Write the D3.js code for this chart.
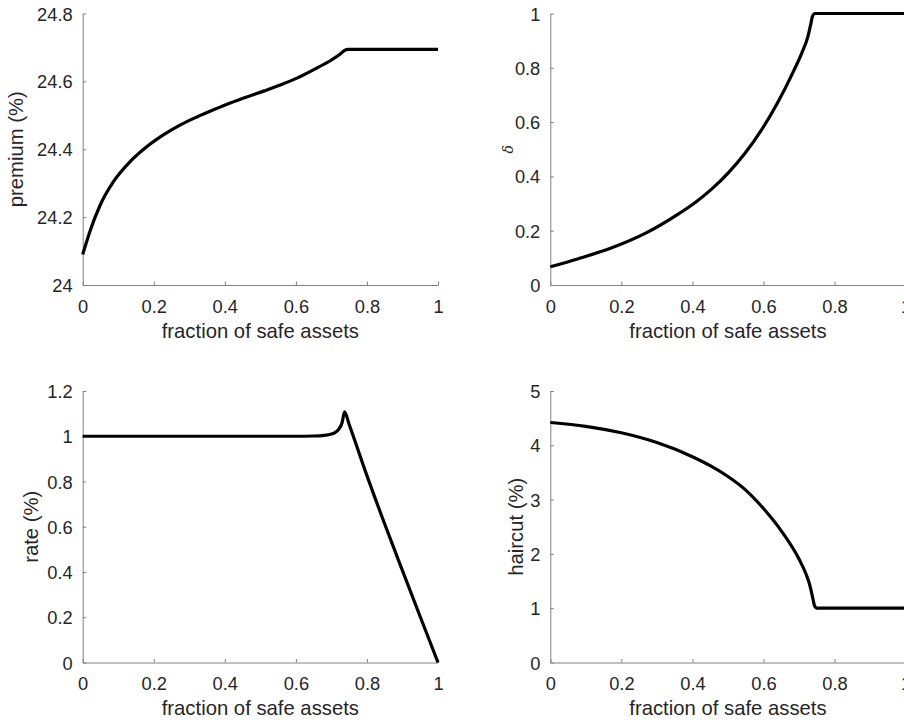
<!DOCTYPE html>
<html>
<head>
<meta charset="utf-8">
<script src="https://cdn.jsdelivr.net/npm/d3@7"></script>
<style>
  body { margin: 0; background: #fff; }
  svg { display: block; }
  text { font-family: "Liberation Sans", Arial, Helvetica, sans-serif; fill: #262626; }
</style>
</head>
<body>
<div id="chart"></div>
<script>
// values
const premiumX = [0, 0.021, 0.049, 0.087, 0.134, 0.181, 0.228, 0.275, 0.323, 0.370, 0.417, 0.464, 0.511, 0.558, 0.606, 0.653, 0.700, 0.724, 0.738, 0.747, 1];
const premiumY = [24.090, 24.160, 24.235, 24.305, 24.364, 24.408, 24.443, 24.472, 24.496, 24.517, 24.537, 24.555, 24.572, 24.590, 24.611, 24.636, 24.663, 24.680, 24.692, 24.694, 24.694];

const deltaX = [0, 0.079, 0.173, 0.267, 0.361, 0.408, 0.454, 0.501, 0.548, 0.595, 0.642, 0.680, 0.708, 0.725, 0.733, 0.738, 0.745, 1];
const deltaY = [0.067, 0.097, 0.137, 0.190, 0.262, 0.304, 0.353, 0.413, 0.485, 0.572, 0.677, 0.775, 0.855, 0.915, 0.960, 0.990, 1.0, 1.0];

const rateX = [0, 0.1, 0.2, 0.3, 0.4, 0.5, 0.6, 0.65, 0.68, 0.70, 0.71, 0.72, 0.73, 0.737, 0.75, 0.8, 0.85, 0.9, 0.95, 1];
const rateY = [1, 1, 1, 1, 1, 1, 1, 1.001, 1.004, 1.01, 1.016, 1.03, 1.06, 1.108, 1.052, 0.826, 0.612, 0.406, 0.202, 0];

const haircutX = [0, 0.1, 0.2, 0.3, 0.4, 0.45, 0.5, 0.55, 0.6, 0.65, 0.7, 0.72, 0.73, 0.738, 0.744, 0.75, 1];
const haircutY = [4.42, 4.35, 4.23, 4.05, 3.79, 3.625, 3.425, 3.175, 2.835, 2.425, 1.905, 1.625, 1.435, 1.21, 1.04, 1.0, 1.0];

const xTicks = [0, 0.2, 0.4, 0.6, 0.8, 1];
const premiumTicks = [24, 24.2, 24.4, 24.6, 24.8];
const deltaTicks = [0, 0.2, 0.4, 0.6, 0.8, 1];
const rateTicks = [0, 0.2, 0.4, 0.6, 0.8, 1, 1.2];
const haircutTicks = [0, 1, 2, 3, 4, 5];

const xLabel = 'fraction of safe assets';

const width = 904, height = 723;

const svg = d3.select('#chart')
  .append('svg')
  .attr('width', width)
  .attr('height', height);

const panels = [
  { xs: premiumX, ys: premiumY, yDomain: [24, 24.8], yTicks: premiumTicks, label: 'premium (%)', left: 82.7, top: 13.5, labelX: 23 },
  { xs: deltaX, ys: deltaY, yDomain: [0, 1], yTicks: deltaTicks, label: 'δ', left: 550.3, top: 13.5, labelX: 513, greek: true },
  { xs: rateX, ys: rateY, yDomain: [0, 1.2], yTicks: rateTicks, label: 'rate (%)', left: 82.7, top: 391, labelX: 38 },
  { xs: haircutX, ys: haircutY, yDomain: [0, 5], yTicks: haircutTicks, label: 'haircut (%)', left: 550.3, top: 391, labelX: 523 }
];

const pw = 355.3, ph = 271.5;

panels.forEach(p => {
  const x = d3.scaleLinear().domain([0, 1]).range([p.left, p.left + pw]);
  const y = d3.scaleLinear().domain(p.yDomain).range([p.top + ph, p.top]);

  const g = svg.append('g');

  // x axis, ticks pointing inward
  const xAxis = g.append('g')
    .attr('transform', 'translate(0,' + (p.top + ph) + ')')
    .call(d3.axisBottom(x).tickValues(xTicks).tickFormat(d3.format('')).tickSizeInner(-3.5).tickSizeOuter(0));
  xAxis.selectAll('text').attr('y', 27.5).attr('dy', 0).style('font-size', '18.3px').style('fill', '#262626');

  const yAxis = g.append('g')
    .attr('transform', 'translate(' + p.left + ',0)')
    .call(d3.axisLeft(y).tickValues(p.yTicks).tickFormat(d3.format('')).tickSizeInner(-3.5).tickSizeOuter(0));
  yAxis.selectAll('text').attr('x', -10).attr('dy', '0.36em').style('font-size', '18.3px').style('fill', '#262626');

  g.selectAll('.domain, .tick line').attr('stroke', '#808080').attr('stroke-width', 1);

  // x label
  g.append('text')
    .attr('x', p.left + pw / 2)
    .attr('y', p.top + ph + 52.5)
    .attr('text-anchor', 'middle')
    .style('font-size', '20.3px')
    .text(xLabel);

  // y label
  const yl = g.append('text')
    .attr('transform', 'translate(' + p.labelX + ',' + (p.top + ph / 2) + ') rotate(-90)')
    .attr('text-anchor', 'middle')
    .text(p.label);
  if (p.greek) {
    yl.style('font-family', '"DejaVu Serif", "Liberation Serif", serif').style('font-style', 'italic').style('font-size', '14px');
  } else {
    yl.style('font-size', '20.3px');
  }

  const pts = p.xs.map((v, i) => [v, p.ys[i]]);
  const line = d3.line()
    .x(d => x(d[0]))
    .y(d => y(d[1]))
    .curve(d3.curveMonotoneX);

  g.append('path')
    .datum(pts)
    .attr('d', line)
    .attr('fill', 'none')
    .attr('stroke', '#000')
    .attr('stroke-width', 3.2)
    .attr('stroke-linejoin', 'round');
});
</script>
</body>
</html>
